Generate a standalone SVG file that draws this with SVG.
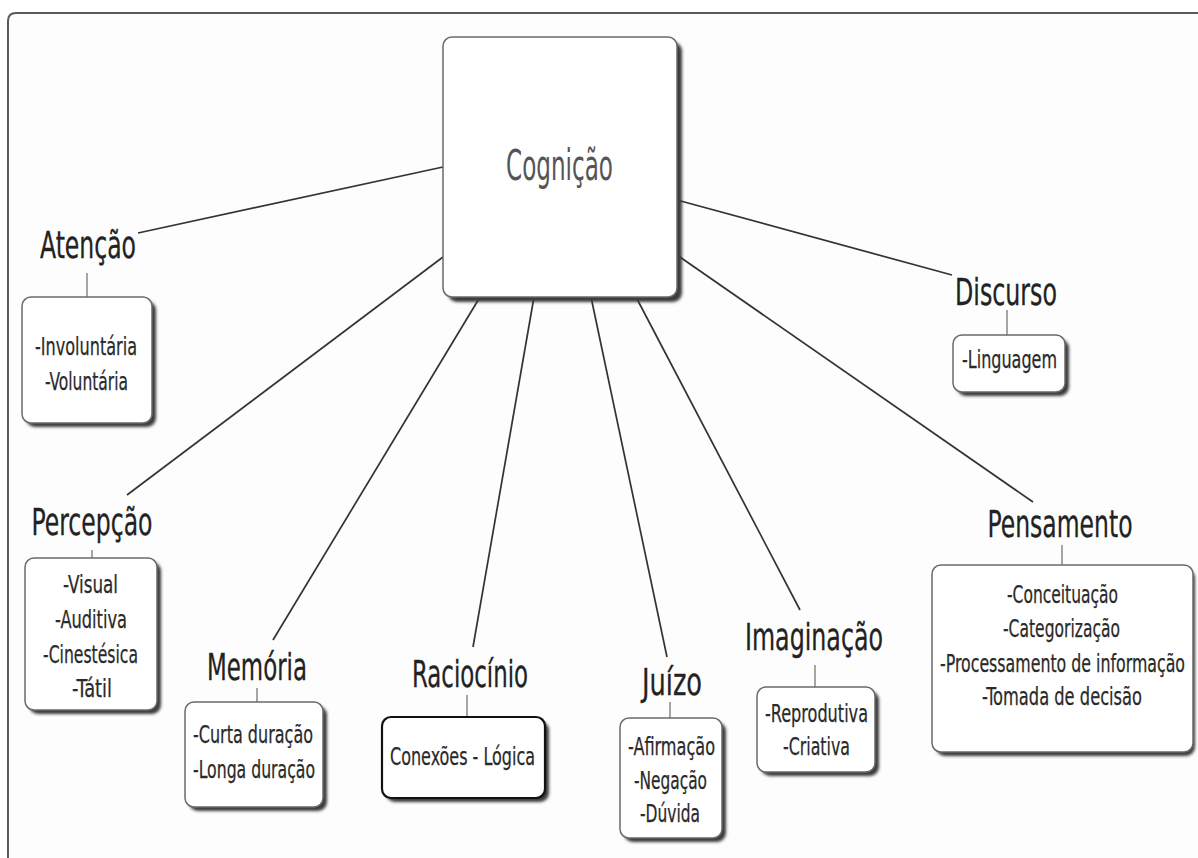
<svg xmlns="http://www.w3.org/2000/svg" width="1198" height="858" viewBox="0 0 1198 858">
  <defs>
    <filter id="soft" x="-10%" y="-10%" width="130%" height="130%">
      <feGaussianBlur stdDeviation="1.4"/>
    </filter>
  </defs>
  <style>
    text { font-family: "DejaVu Sans Condensed", "DejaVu Sans", "Liberation Sans", sans-serif; font-stretch: condensed; text-anchor: middle; }
    .title { font-size: 42px; fill: #555; }
    .label { font-size: 38px; fill: #222; stroke: #222; stroke-width: 0.3; }
    .item { font-size: 24px; fill: #2a2a2a; stroke: #2a2a2a; stroke-width: 0.25; }
    .box { fill: #ffffff; stroke: #6a6a6a; stroke-width: 1.5; }
    .box.strong { stroke: #111; stroke-width: 2.2; }
    .shadow { fill: #3a3a3a; filter: url(#soft); }
    .link { stroke: #333; stroke-width: 1.7; fill: none; }
    .stub { stroke: #777; stroke-width: 1.3; fill: none; }
    .frame { fill: #fdfdfd; stroke: #5a5a5a; stroke-width: 2; }
  </style>

  <rect width="1198" height="858" fill="#ffffff"/>
  <!-- page frame, running off the right and bottom edges -->
  <path class="frame" d="M8,870 V21 Q8,13 16,13 H1210 V870 Z"/>

  <!-- connectors from the central concept -->
  <g id="connectors">
    <line class="link" x1="443" y1="167" x2="138" y2="233"/>
    <line class="link" x1="443" y1="257" x2="127" y2="495"/>
    <line class="link" x1="480" y1="297" x2="273" y2="640"/>
    <line class="link" x1="534" y1="297" x2="473" y2="647"/>
    <line class="link" x1="591" y1="297" x2="667" y2="657"/>
    <line class="link" x1="636" y1="297" x2="800" y2="610"/>
    <line class="link" x1="677" y1="255" x2="1033" y2="502"/>
    <line class="link" x1="677" y1="200" x2="952" y2="275"/>
  </g>

  <g id="cognicao">
    <rect class="shadow" x="448" y="42" width="234" height="260" rx="9"/>
    <rect class="box" x="443" y="37" width="234" height="260" rx="9"/>
    <text class="title" x="559.5" y="180" textLength="107" lengthAdjust="spacingAndGlyphs">Cognição</text>
  </g>

  <g id="atencao">
    <text class="label" x="88" y="258" textLength="96" lengthAdjust="spacingAndGlyphs">Atenção</text>
    <line class="stub" x1="87" y1="273" x2="87" y2="297"/>
    <rect class="shadow" x="26" y="301" width="130" height="126" rx="9"/>
    <rect class="box" x="22" y="297" width="130" height="126" rx="9"/>
    <text class="item" x="86" y="355" textLength="102" lengthAdjust="spacingAndGlyphs">-Involuntária</text>
    <text class="item" x="86.5" y="390" textLength="83" lengthAdjust="spacingAndGlyphs">-Voluntária</text>
  </g>

  <g id="percepcao">
    <text class="label" x="92" y="535" textLength="121" lengthAdjust="spacingAndGlyphs">Percepção</text>
    <line class="stub" x1="92" y1="550" x2="92" y2="558"/>
    <rect class="shadow" x="29" y="562" width="132" height="152" rx="9"/>
    <rect class="box" x="25" y="558" width="132" height="152" rx="9"/>
    <text class="item" x="90.5" y="593" textLength="55" lengthAdjust="spacingAndGlyphs">-Visual</text>
    <text class="item" x="91" y="628" textLength="72" lengthAdjust="spacingAndGlyphs">-Auditiva</text>
    <text class="item" x="90.5" y="663" textLength="95" lengthAdjust="spacingAndGlyphs">-Cinestésica</text>
    <text class="item" x="92" y="697" textLength="40" lengthAdjust="spacingAndGlyphs">-Tátil</text>
  </g>

  <g id="memoria">
    <text class="label" x="257" y="680" textLength="100" lengthAdjust="spacingAndGlyphs">Memória</text>
    <line class="stub" x1="257" y1="688" x2="257" y2="702"/>
    <rect class="shadow" x="189" y="706" width="138" height="105" rx="9"/>
    <rect class="box" x="185" y="702" width="138" height="105" rx="9"/>
    <text class="item" x="253" y="743" textLength="120" lengthAdjust="spacingAndGlyphs">-Curta duração</text>
    <text class="item" x="254" y="778" textLength="122" lengthAdjust="spacingAndGlyphs">-Longa duração</text>
  </g>

  <g id="raciocinio">
    <text class="label" x="470" y="687" textLength="116" lengthAdjust="spacingAndGlyphs">Raciocínio</text>
    <line class="stub" x1="467" y1="695" x2="467" y2="717"/>
    <rect class="shadow" x="386" y="721" width="163" height="81" rx="9"/>
    <rect class="box strong" x="382" y="717" width="163" height="81" rx="9"/>
    <text class="item" x="462.5" y="765" textLength="145" lengthAdjust="spacingAndGlyphs">Conexões - Lógica</text>
  </g>

  <g id="juizo">
    <text class="label" x="672" y="695" textLength="60" lengthAdjust="spacingAndGlyphs">Juízo</text>
    <line class="stub" x1="670" y1="702" x2="670" y2="718"/>
    <rect class="shadow" x="624" y="722" width="102" height="120" rx="9"/>
    <rect class="box" x="620" y="718" width="102" height="120" rx="9"/>
    <text class="item" x="671.5" y="755" textLength="87" lengthAdjust="spacingAndGlyphs">-Afirmação</text>
    <text class="item" x="670.5" y="789" textLength="73" lengthAdjust="spacingAndGlyphs">-Negação</text>
    <text class="item" x="670" y="822" textLength="60" lengthAdjust="spacingAndGlyphs">-Dúvida</text>
  </g>

  <g id="imaginacao">
    <text class="label" x="814" y="650" textLength="138" lengthAdjust="spacingAndGlyphs">Imaginação</text>
    <line class="stub" x1="815" y1="665" x2="815" y2="687"/>
    <rect class="shadow" x="761" y="691" width="118" height="85" rx="9"/>
    <rect class="box" x="757" y="687" width="118" height="85" rx="9"/>
    <text class="item" x="816.5" y="722" textLength="103" lengthAdjust="spacingAndGlyphs">-Reprodutiva</text>
    <text class="item" x="816.5" y="755" textLength="67" lengthAdjust="spacingAndGlyphs">-Criativa</text>
  </g>

  <g id="pensamento">
    <text class="label" x="1060" y="537" textLength="145" lengthAdjust="spacingAndGlyphs">Pensamento</text>
    <line class="stub" x1="1062" y1="545" x2="1062" y2="565"/>
    <rect class="shadow" x="936" y="569" width="259" height="187" rx="9"/>
    <rect class="box" x="932" y="565" width="261" height="187" rx="9"/>
    <text class="item" x="1062.5" y="603" textLength="111" lengthAdjust="spacingAndGlyphs">-Conceituação</text>
    <text class="item" x="1061.5" y="637" textLength="117" lengthAdjust="spacingAndGlyphs">-Categorização</text>
    <text class="item" x="1062.5" y="672" textLength="245" lengthAdjust="spacingAndGlyphs">-Processamento de informação</text>
    <text class="item" x="1062" y="705" textLength="160" lengthAdjust="spacingAndGlyphs">-Tomada de decisão</text>
  </g>

  <g id="discurso">
    <text class="label" x="1006" y="305" textLength="102" lengthAdjust="spacingAndGlyphs">Discurso</text>
    <line class="stub" x1="1007" y1="310" x2="1007" y2="335"/>
    <rect class="shadow" x="957" y="339" width="112" height="57" rx="9"/>
    <rect class="box" x="953" y="335" width="112" height="57" rx="9"/>
    <text class="item" x="1009.5" y="368" textLength="95" lengthAdjust="spacingAndGlyphs">-Linguagem</text>
  </g>
</svg>
